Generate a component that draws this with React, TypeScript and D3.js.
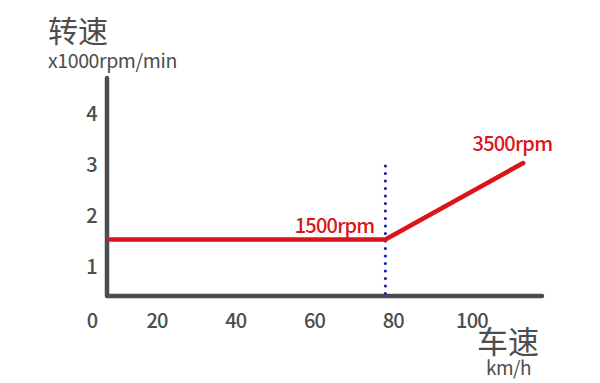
import React from "react";
import * as d3 from "d3";

const speedTicks = [0, 20, 40, 60, 80, 100];
const rpmTicks = [1, 2, 3, 4];
const lineSpeed = [8, 78, 113];
const lineRpm = [1.5, 1.5, 3.0];
const switchSpeed = 78;
const annotations = [
  { label: "1500rpm", speed: 78, rpm: 1.5 },
  { label: "3500rpm", speed: 113, rpm: 3.0 },
];

const W = 600;
const H = 383;

export default function App() {
  const x = d3.scaleLinear().domain([20, 100]).range([157, 472]);
  const y = d3.scaleLinear().domain([1, 4]).range([265, 112]);
  const axisX0 = 107;
  const axisY0 = 296;
  const axisTop = 78;
  const axisRight = 542;
  const font = "'Noto Sans CJK SC', 'Noto Sans', sans-serif";
  const gray = "#4d4d4d";
  const red = "#dc1419";

  const pts: [number, number][] = lineSpeed.map((s, i) => [x(s), y(lineRpm[i])]);
  const line = d3.line()(pts) || "";

  return (
    <svg width={W} height={H} style={{ position: "absolute", left: 0, top: 0, background: "#fff" }} fontFamily={font}>
      <rect width={W} height={H} fill="#fff" />
      {/* titles */}
      <text x={48} y={42} fontSize={30} fill={gray}>转速</text>
      <text x={48} y={68} fontSize={19.5} fill={gray} letterSpacing={-0.4}>x1000rpm/min</text>
      <text x={477} y={353} fontSize={31} fill={gray}>车速</text>
      <text x={486} y={375} fontSize={19} fill={gray} letterSpacing={-0.5}>km/h</text>

      {/* y tick labels */}
      {rpmTicks.map((t) => (
        <text key={t} x={92} y={y(t)} fontSize={20} fontWeight={500} fill={gray} textAnchor="middle" dominantBaseline="central">{t}</text>
      ))}
      {/* x tick labels */}
      {speedTicks.map((t) => (
        <text key={t} x={t === 0 ? 92 : x(t)} y={319} fontSize={20} fontWeight={500} fill={gray} textAnchor="middle" dominantBaseline="central" letterSpacing={-0.8}>{t}</text>
      ))}

      {/* axes */}
      <path d={`M${axisX0},${axisTop}V${axisY0}H${axisRight}`} fill="none" stroke={gray} strokeWidth={4.5} strokeLinecap="round" strokeLinejoin="round" />

      {/* dotted switch line */}
      <line x1={x(switchSpeed)} x2={x(switchSpeed)} y1={y(3.0) + 3} y2={axisY0} stroke="#1c22b0" strokeWidth={3.2} strokeDasharray="0 7.5" strokeLinecap="round" />

      {/* red line */}
      <path d={line} fill="none" stroke={red} strokeWidth={4.5} strokeLinecap="round" strokeLinejoin="round" />

      {/* annotations */}
      {annotations.map((a, i) => (
        <text key={a.label} x={x(a.speed) + (i === 0 ? -11 : 29)} y={y(a.rpm) - (i === 0 ? 7 : 12)} fontSize={20} fontWeight={500} fill={red} textAnchor="end" letterSpacing={-0.8}>{a.label}</text>
      ))}
    </svg>
  );
}
